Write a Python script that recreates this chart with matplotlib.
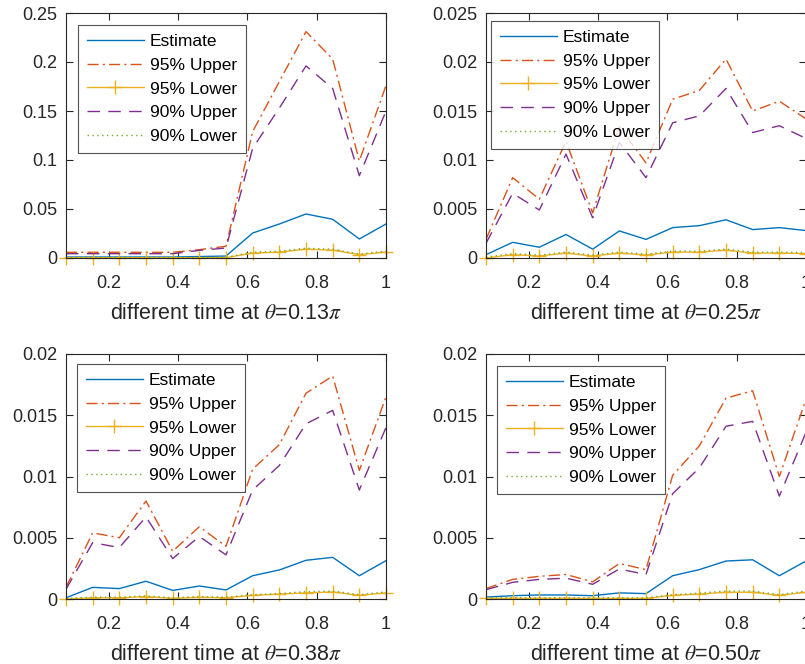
import numpy as np
import matplotlib
matplotlib.use("Agg")
import matplotlib.pyplot as plt
from matplotlib.ticker import FuncFormatter

plt.rcParams['font.family'] = ['Liberation Sans', 'DejaVu Sans']
plt.rcParams['mathtext.fontset'] = 'stix'

x = [k / 13 for k in range(1, 14)]

series_names = ["Estimate", "95% Upper", "95% Lower", "90% Upper", "90% Lower"]

# panel 1: theta = 0.13 pi
p1_est = [0.001, 0.001, 0.001, 0.001, 0.001, 0.0015, 0.002, 0.0255, 0.0347, 0.0449, 0.0395, 0.0194, 0.0347]
p1_u95 = [0.0058, 0.0058, 0.0058, 0.0058, 0.0058, 0.0085, 0.012, 0.129, 0.180, 0.231, 0.203, 0.099, 0.176]
p1_l95 = [0.0003, 0.0003, 0.0003, 0.0003, 0.0003, 0.0003, 0.0004, 0.005, 0.006, 0.009, 0.008, 0.0034, 0.006]
p1_u90 = [0.0044, 0.0044, 0.0044, 0.0044, 0.0044, 0.0078, 0.0102, 0.112, 0.153, 0.196, 0.173, 0.084, 0.150]
p1_l90 = [0.0005, 0.0005, 0.0005, 0.0005, 0.0005, 0.0005, 0.0006, 0.006, 0.007, 0.010, 0.009, 0.004, 0.007]

# panel 2: theta = 0.25 pi
p2_est = [0.00034, 0.0016, 0.0011, 0.0024, 0.0009, 0.00276, 0.0019, 0.0031, 0.0033, 0.0039, 0.0029, 0.0031, 0.0028]
p2_u95 = [0.0019, 0.0082, 0.0060, 0.0119, 0.0046, 0.0134, 0.0097, 0.0162, 0.0171, 0.0203, 0.0150, 0.0160, 0.0142]
p2_l95 = [0.0, 0.00034, 0.0002, 0.0005, 0.0002, 0.0005, 0.0003, 0.0006, 0.0006, 0.0008, 0.0005, 0.0005, 0.00045]
p2_u90 = [0.0015, 0.0066, 0.0049, 0.0106, 0.0041, 0.0118, 0.0082, 0.0138, 0.0145, 0.0173, 0.0128, 0.0135, 0.0122]
p2_l90 = [0.0001, 0.00044, 0.0003, 0.0006, 0.0003, 0.0006, 0.0004, 0.0007, 0.0007, 0.0009, 0.0006, 0.0006, 0.00055]

# panel 3: theta = 0.38 pi
p3_est = [0.0001, 0.00095, 0.00085, 0.00145, 0.0007, 0.00106, 0.00074, 0.0019, 0.00237, 0.00316, 0.0034, 0.0019, 0.00313]
p3_u95 = [0.00095, 0.0054, 0.0050, 0.0080, 0.0039, 0.0059, 0.0043, 0.0106, 0.0126, 0.0168, 0.0182, 0.0105, 0.0165]
p3_l95 = [0.0, 0.0001, 0.0001, 0.0002, 0.00005, 0.00014, 0.0001, 0.0003, 0.0004, 0.0005, 0.00057, 0.0003, 0.0005]
p3_u90 = [0.0008, 0.0046, 0.0042, 0.0067, 0.0033, 0.0051, 0.0036, 0.0089, 0.0109, 0.0143, 0.0154, 0.0089, 0.0140]
p3_l90 = [0.00005, 0.00015, 0.00015, 0.00025, 0.0001, 0.0002, 0.00015, 0.00035, 0.00045, 0.0006, 0.00065, 0.00035, 0.00058]

# panel 4: theta = 0.50 pi
p4_est = [0.00016, 0.00027, 0.00033, 0.00033, 0.00027, 0.0005, 0.00044, 0.0019, 0.0024, 0.0031, 0.0032, 0.0019, 0.0031]
p4_u95 = [0.00085, 0.0016, 0.00185, 0.0020, 0.0014, 0.0029, 0.0024, 0.0101, 0.0125, 0.0164, 0.0170, 0.0100, 0.0163]
p4_l95 = [0.00005, 0.00005, 0.00005, 0.00005, 0.00005, 0.00005, 0.00005, 0.0003, 0.0004, 0.00055, 0.00055, 0.0003, 0.00055]
p4_u90 = [0.00076, 0.00136, 0.0016, 0.0017, 0.0012, 0.00245, 0.0020, 0.0086, 0.0107, 0.0141, 0.0145, 0.0084, 0.0136]
p4_l90 = [0.0001, 0.0001, 0.0001, 0.0001, 0.0001, 0.0001, 0.0001, 0.00035, 0.00048, 0.00065, 0.00065, 0.00035, 0.00065]

panels = [
    ("0.13", [p1_est, p1_u95, p1_l95, p1_u90, p1_l90], [0, 0.05, 0.1, 0.15, 0.2, 0.25]),
    ("0.25", [p2_est, p2_u95, p2_l95, p2_u90, p2_l90], [0, 0.005, 0.01, 0.015, 0.02, 0.025]),
    ("0.38", [p3_est, p3_u95, p3_l95, p3_u90, p3_l90], [0, 0.005, 0.01, 0.015, 0.02]),
    ("0.50", [p4_est, p4_u95, p4_l95, p4_u90, p4_l90], [0, 0.005, 0.01, 0.015, 0.02]),
]
xticks = [0.2, 0.4, 0.6, 0.8, 1]

colors = ["#0072BD", "#D95319", "#EDB120", "#7E2F8E", "#77AC30"]
styles = [dict(ls='-'), dict(ls=(0, (8, 3, 1.5, 3))), dict(ls='-', marker='+', ms=10, mew=1.0),
          dict(ls=(0, (9, 6))), dict(ls=(0, (1, 2.5)))]

W, H = 805, 664
fig = plt.figure(figsize=(W / 100, H / 100), dpi=100)
pos = [(66, 13), (486, 13), (66, 354), (486, 354)]
aw, ah = 320, 245
legend_off = [(12, 12), (5, 8), (11, 10), (11, 12)]

axc = "#262626"
for i, (theta, data, yt) in enumerate(panels):
    l, t = pos[i]
    ax = fig.add_axes([l / W, 1 - (t + ah) / H, aw / W, ah / H])
    for j, (vals, name) in enumerate(zip(data, series_names)):
        kw = dict(styles[j])
        ax.plot(x, vals, color=colors[j], lw=1.0, label=name,
                clip_on=(j != 2), **kw)
    ax.set_xlim(1 / 13, 1)
    ax.set_ylim(yt[0], yt[-1])
    ax.set_xticks(xticks)
    ax.set_yticks(yt)
    ax.xaxis.set_major_formatter(FuncFormatter(lambda v, p: f"{v:g}"))
    ax.yaxis.set_major_formatter(FuncFormatter(lambda v, p: f"{v:g}"))
    ax.tick_params(direction='in', top=True, right=True, length=5, width=0.8,
                   labelsize=13, colors=axc, labelcolor=axc)
    ax.tick_params(axis='x', pad=12.5)
    ax.tick_params(axis='y', pad=6)
    for s in ax.spines.values():
        s.set_color(axc)
        s.set_linewidth(0.8)
    ax.set_xlabel(r"different time at $\theta$=" + theta + r"$\pi$", fontsize=15.5,
                  color=axc, labelpad=8)
    ox, oy = legend_off[i]
    leg = ax.legend(loc='upper left', bbox_to_anchor=(ox / aw, 1 - oy / ah),
                    borderaxespad=0, fontsize=12.5, frameon=True, fancybox=False,
                    handlelength=3.3, handletextpad=0.35, labelspacing=0.5,
                    borderpad=0.5, edgecolor=axc)
    leg.get_frame().set_linewidth(0.8)
    leg.set_zorder(5)

fig.savefig("out.png", dpi=100, facecolor='white')
